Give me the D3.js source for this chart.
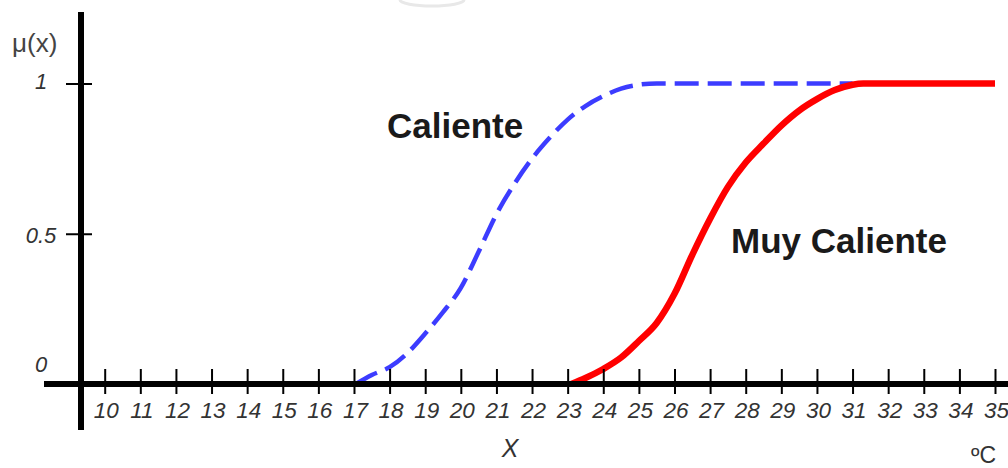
<!DOCTYPE html>
<html>
<head>
<meta charset="utf-8">
<script src="https://cdn.jsdelivr.net/npm/d3@7/dist/d3.min.js"></script>
<style>
  html, body { margin: 0; padding: 0; background: #ffffff; }
  svg { display: block; }
</style>
</head>
<body>
<script>
// ---- data ----
const xTickValues = [10,11,12,13,14,15,16,17,18,19,20,21,22,23,24,25,26,27,28,29,30,31,32,33,34,35];
const yTickValues = [0, 0.5, 1];
const yTickLabels = ["0", "0.5", "1"];

const calienteX = [17.05, 17.5, 18, 18.5, 19, 19.5, 20, 20.5, 21, 21.5, 22, 22.5, 23, 23.5, 24, 24.5, 25, 25.5, 31];
const calienteY = [0, 0.03, 0.056, 0.103, 0.168, 0.239, 0.32, 0.44, 0.565, 0.665, 0.75, 0.82, 0.88, 0.925, 0.958, 0.983, 0.996, 1, 1];

const muyX = [23.1, 23.5, 24, 24.5, 25, 25.5, 26, 26.5, 27, 27.5, 28, 28.5, 29, 29.5, 30, 30.5, 31, 31.3, 35];
const muyY = [0, 0.02, 0.05, 0.088, 0.143, 0.203, 0.3, 0.43, 0.55, 0.656, 0.737, 0.8, 0.86, 0.91, 0.948, 0.978, 0.996, 1, 1];

const seriesNames = ["Caliente", "Muy Caliente"];

// ---- chart ----
const W = 1008, H = 468;
const svg = d3.select("body").append("svg").attr("width", W).attr("height", H);
svg.append("rect").attr("width", W).attr("height", H).attr("fill", "#ffffff");

const x = d3.scaleLinear().domain([10, 35]).range([104.7, 995]);
const y = d3.scaleLinear().domain([0, 1]).range([384, 83.5]);

// faint watermark arc at top
svg.append("path")
  .attr("d", "M400,0 A32,6 0 0 0 464,0")
  .attr("fill", "none").attr("stroke", "#e8e8e8").attr("stroke-width", 3);

const line = d3.line().x(d => x(d[0])).y(d => y(d[1])).curve(d3.curveMonotoneX);

const caliente = calienteX.map((v, i) => [v, calienteY[i]]);
const muy = muyX.map((v, i) => [v, muyY[i]]);

svg.append("path").datum(caliente)
  .attr("d", line).attr("fill", "none")
  .attr("stroke", "#3c3cff").attr("stroke-width", 4.5)
  .attr("stroke-dasharray", "24,9");

svg.append("path").datum(muy)
  .attr("d", line).attr("fill", "none")
  .attr("stroke", "#ff0000").attr("stroke-width", 6.5)
  .attr("stroke-linejoin", "round");

// x axis
const xAxisG = svg.append("g").attr("transform", `translate(0,${y(0)})`)
  .call(d3.axisBottom(x).tickValues(xTickValues).tickFormat(d3.format("d")).tickSize(10));
xAxisG.select(".domain").remove();
xAxisG.selectAll(".tick line").attr("y1", -15).attr("y2", 10)
  .attr("stroke", "#000").attr("stroke-width", 2);
xAxisG.selectAll(".tick text")
  .attr("y", 34).attr("dy", 0).attr("x", 1)
  .attr("font-family", "'Liberation Sans', Arial, sans-serif")
  .attr("font-style", "italic").attr("font-size", 22.5).attr("fill", "#333");

svg.append("line").attr("x1", 44).attr("x2", 1008)
  .attr("y1", y(0)).attr("y2", y(0))
  .attr("stroke", "#000").attr("stroke-width", 6);

// y axis
const yAxisG = svg.append("g").attr("transform", `translate(${x.range()[0] - 23.7},0)`)
  .call(d3.axisLeft(y).tickValues(yTickValues).tickFormat((d, i) => yTickLabels[i]).tickSize(0));
yAxisG.select(".domain").remove();
yAxisG.selectAll(".tick").append("line")
  .attr("x1", -15).attr("x2", 11).attr("stroke", "#000").attr("stroke-width", 2);
yAxisG.selectAll(".tick text")
  .attr("x", -40).attr("dy", 0)
  .attr("y", d => d === 0 ? -13 : (d === 1 ? 4.5 : 8.3))
  .attr("text-anchor", "middle")
  .attr("font-family", "'Liberation Sans', Arial, sans-serif")
  .attr("font-style", "italic").attr("font-size", 22).attr("fill", "#333");

svg.append("line").attr("x1", 81).attr("x2", 81)
  .attr("y1", 12).attr("y2", 430)
  .attr("stroke", "#000").attr("stroke-width", 6);

// axis titles
svg.append("text").attr("x", 12).attr("y", 52)
  .attr("font-family", "'Liberation Sans', Arial, sans-serif")
  .attr("font-size", 26).attr("fill", "#444").text("μ(x)");

svg.append("text").attr("x", 510).attr("y", 457).attr("text-anchor", "middle")
  .attr("font-family", "'Liberation Sans', Arial, sans-serif")
  .attr("font-style", "italic").attr("font-size", 25).attr("fill", "#333").text("X");

svg.append("text").attr("x", 996).attr("y", 463).attr("text-anchor", "end")
  .attr("font-family", "'Liberation Sans', Arial, sans-serif")
  .attr("font-size", 23).attr("fill", "#333").text("ºC");

// series labels
svg.append("text").attr("x", 387).attr("y", 138)
  .attr("font-family", "'Liberation Sans', Arial, sans-serif")
  .attr("font-weight", "bold").attr("font-size", 35).attr("fill", "#1a1a1a").text(seriesNames[0]);

svg.append("text").attr("x", 731).attr("y", 253)
  .attr("font-family", "'Liberation Sans', Arial, sans-serif")
  .attr("font-weight", "bold").attr("font-size", 35).attr("fill", "#1a1a1a").text(seriesNames[1]);
</script>
</body>
</html>
